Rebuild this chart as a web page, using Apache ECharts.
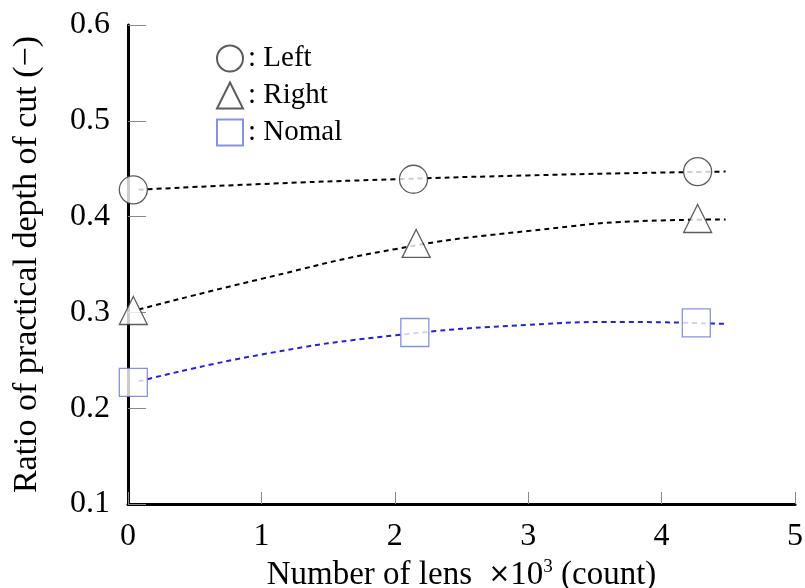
<!DOCTYPE html>
<html>
<head>
<meta charset="utf-8">
<script src="https://cdn.jsdelivr.net/npm/echarts@6/dist/echarts.min.js"></script>
<style>
  html, body { margin: 0; padding: 0; background: #fff; }
  #chart { width: 805px; height: 588px; }
</style>
</head>
<body>
<div id="chart"></div>
<script>
// measured points (x = number of lens x10^3)
var leftPts = [[0.04, 0.428], [2.14, 0.439], [4.27, 0.447]];
var rightPts = [[0.04, 0.302], [2.16, 0.372], [4.27, 0.398]];
var nomalPts = [[0.04, 0.227], [2.15, 0.279], [4.26, 0.289]];
// dashed fit curves
var leftFit = [[0.08, 0.428], [1, 0.434], [2, 0.439], [3, 0.443], [4, 0.446], [4.48, 0.447]];
var rightFit = [[0.08, 0.303], [1, 0.335], [2, 0.366], [3, 0.385], [4, 0.396], [4.48, 0.397]];
var nomalFit = [[0.08, 0.228], [1, 0.256], [2, 0.276], [3, 0.287], [3.7, 0.290], [4.48, 0.288]];
var xTicks = [0, 1, 2, 3, 4, 5];
var yTicks = [0.1, 0.2, 0.3, 0.4, 0.5, 0.6];

var font = "Liberation Serif";
var myChart = echarts.init(document.getElementById("chart"));

function fit(data, color) {
    return {
        type: "line", data: data, smooth: true, showSymbol: false, silent: true,
        lineStyle: { color: color, width: 2, type: [5, 4] }, z: 1
    };
}
function pts(name, data, symbol, border) {
    return {
        name: name, type: "scatter", data: data, symbol: symbol, symbolSize: 28,
        itemStyle: { color: "#fff", borderColor: border, borderWidth: 1.3 }, z: 3
    };
}

var option = {
    animation: false,
    grid: { left: 128, right: 10, top: 25, bottom: 84, outerBoundsMode: "none", containLabel: false },
    legend: {
        orient: "vertical", left: 211, top: 39, itemGap: 8,
        itemWidth: 26, itemHeight: 26,
        textStyle: { fontFamily: font, fontSize: 29, lineHeight: 26, color: "#000" },
        formatter: function (n) { return ": " + n; },
        data: [
            { name: "Left", icon: "circle" },
            { name: "Right", icon: "triangle" },
            { name: "Nomal", icon: "rect" }
        ]
    },
    xAxis: {
        type: "value", min: 0, max: 5, interval: 1,
        name: "Number of lens  {m|×}10{s|3} (count)",
        nameLocation: "middle", nameGap: 43,
        nameTextStyle: {
            fontFamily: font, fontSize: 33, color: "#000",
            rich: {
                m: { fontFamily: "DejaVu Sans", fontSize: 26, color: "#000" },
                s: { fontFamily: font, fontSize: 19, color: "#000", verticalAlign: "top", padding: [0, 0, 15, 0] }
            }
        },
        axisLine: { lineStyle: { color: "#000", width: 3 } },
        axisTick: { inside: true, length: 12, lineStyle: { color: "#888", width: 1 } },
        axisLabel: {
            fontFamily: font, fontSize: 32, color: "#000", margin: 17,
            formatter: function (v) { return xTicks.indexOf(v) >= 0 ? String(v) : ""; }
        },
        splitLine: { show: false }
    },
    yAxis: {
        type: "value", min: 0.1, max: 0.6, interval: 0.1,
        name: "Ratio of practical depth of cut (−)",
        nameLocation: "middle", nameGap: 84,
        nameTextStyle: { fontFamily: font, fontSize: 34, color: "#000" },
        axisLine: { show: true, lineStyle: { color: "#000", width: 3 } },
        axisTick: { inside: true, length: 18, lineStyle: { color: "#888", width: 1 } },
        axisLabel: {
            fontFamily: font, fontSize: 32, color: "#000", margin: 18,
            formatter: function (v) {
                var t = yTicks.find(function (k) { return Math.abs(k - v) < 1e-6; });
                return t !== undefined ? t.toFixed(1) : "";
            }
        },
        splitLine: { show: false }
    },
    series: [
        fit(leftFit, "#000"),
        fit(rightFit, "#000"),
        fit(nomalFit, "#2222dd"),
        pts("Left", leftPts, "circle", "#333"),
        pts("Right", rightPts, "triangle", "#333"),
        pts("Nomal", nomalPts, "rect", "#6677dd")
    ]
};
option && myChart.setOption(option);
</script>
</body>
</html>
